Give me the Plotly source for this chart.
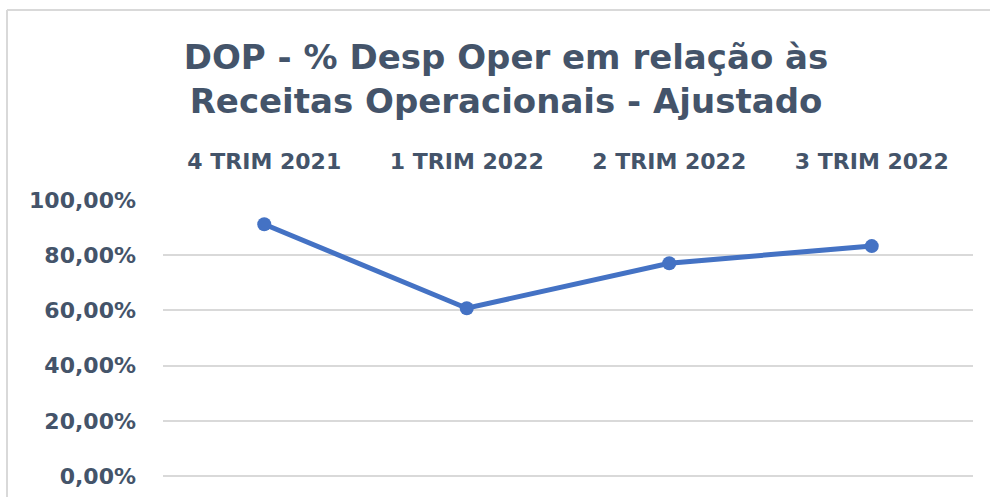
import plotly.graph_objects as go

categories = ["4 TRIM 2021", "1 TRIM 2022", "2 TRIM 2022", "3 TRIM 2022"]
values = [0.912, 0.608, 0.771, 0.833]
y_ticks = [0, 0.2, 0.4, 0.6, 0.8, 1.0]

TEXT = "#44546A"
LINE = "#4472C4"
GRID = "#D9D9D9"
FONT = "DejaVu Sans"

fig = go.Figure(go.Scatter(
    x=categories, y=values, mode="lines+markers",
    line=dict(color=LINE, width=5),
    marker=dict(color=LINE, size=14),
))

W, H = 990, 497
L, R, T, B = 163, 17, 200, 21
pw, ph = W - L - R, H - T - B

def px(x):
    return (x - L) / pw

def py(y):
    return (H - B - y) / ph

fig.update_layout(
    width=W, height=H,
    margin=dict(l=L, r=R, t=T, b=B, autoexpand=False),
    paper_bgcolor="white", plot_bgcolor="white",
    showlegend=False,
    separators=",.",
    font=dict(family=FONT, color=TEXT),
    title=dict(
        text="DOP - % Desp Oper em relação às<br>Receitas Operacionais - Ajustado",
        font=dict(family=FONT, size=34, color=TEXT, weight="bold"),
        x=506 / W, xanchor="center", xref="container",
        y=1 - 69 / H, yanchor="middle", yref="container",
    ),
    xaxis=dict(
        side="top", type="category",
        range=[-0.5, 3.5], automargin=False,
        showgrid=False, showline=False, zeroline=False, ticks="",
        tickfont=dict(family=FONT, size=22, color=TEXT, weight="bold"),
        ticklabelstandoff=26,
    ),
    yaxis=dict(
        range=[0, 1.0], tickvals=y_ticks, tickformat=".2%", automargin=False,
        showgrid=True, gridcolor=GRID, gridwidth=2,
        zeroline=True, zerolinecolor=GRID, zerolinewidth=2,
        showline=False, ticks="",
        tickfont=dict(family=FONT, size=22, color=TEXT, weight="bold"),
        ticklabelstandoff=26,
    ),
    shapes=[
        dict(type="line", xref="paper", yref="paper",
             x0=px(7), x1=px(990), y0=py(10), y1=py(10),
             line=dict(color=GRID, width=2)),
        dict(type="line", xref="paper", yref="paper",
             x0=px(7), x1=px(7), y0=py(10), y1=py(497),
             line=dict(color=GRID, width=2)),
    ],
)

fig.update_traces(cliponaxis=False)
fig.write_html(
    "out.html",
    config={"displayModeBar": False},
    post_script="document.body.style.margin='0';document.body.style.overflow='hidden';",
)
